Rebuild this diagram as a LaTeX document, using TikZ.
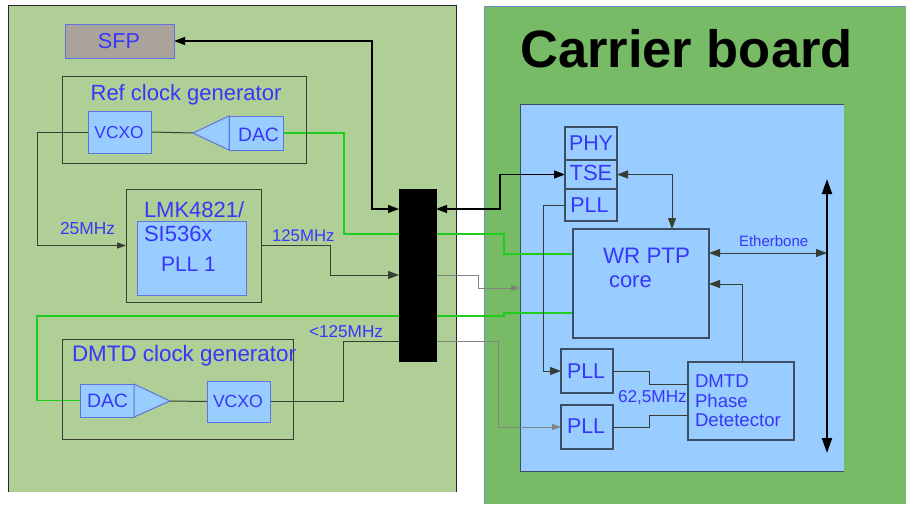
\documentclass[tikz,border=0pt]{standalone}
\usepackage{fontspec}
\setmainfont{Liberation Sans}
\usetikzlibrary{arrows.meta,calc}
\definecolor{lboard}{RGB}{175,207,150}
\definecolor{cboard}{RGB}{119,187,102}
\definecolor{lblue}{RGB}{153,204,255}
\definecolor{tblue}{RGB}{55,55,250}
\definecolor{bblue}{RGB}{95,115,225}
\definecolor{sfpgray}{RGB}{170,163,155}
\definecolor{gline}{RGB}{30,205,30}
\definecolor{slate}{RGB}{62,78,98}
\definecolor{cbord}{RGB}{110,140,200}
\definecolor{dline}{RGB}{55,62,52}
\definecolor{grline}{RGB}{130,130,130}
\pgfdeclarelayer{bg}
\pgfdeclarelayer{lines}
\pgfsetlayers{bg,lines,main}
\newcommand{\mybox}[6][]{\node[inner sep=0pt, outer sep=0pt, anchor=north west,
  minimum width={(#5-#3)*1pt}, minimum height={(#6-#4)*1pt}, #1] (#2) at (#3,#4) {};}
\newcommand{\fs}[1]{\fontsize{#1}{#1}\selectfont}
\tikzset{
  grpbox/.style={draw=dline, line width=1pt},
  bluebox/.style={draw=bblue, fill=lblue, line width=1pt},
  rbox/.style={draw=slate, fill=lblue, line width=1.1pt},
  txt/.style={inner sep=0pt, outer sep=0pt, text=tblue},
  conn/.style={draw=dline, line width=1pt},
  bconn/.style={draw=black, line width=1.2pt},
  gconn/.style={draw=gline, line width=1.5pt},
  thin/.style={draw=grline, line width=0.8pt},
  tip/.style={-{Triangle[length=11pt,width=8pt]}},
  smalltip/.style={-{Triangle[length=9pt,width=6pt]}},
  dtip/.style={{Triangle[length=11pt,width=8pt]}-{Triangle[length=11pt,width=8pt]}},
  bustip/.style={{Triangle[length=15pt,width=10pt]}-{Triangle[length=15pt,width=10pt]}},
}
\begin{document}
\begin{tikzpicture}[x=1pt,y=-1pt]
\useasboundingbox (0,0) rectangle (906,504);
\begin{pgfonlayer}{bg}
  \fill[lboard] (8,5) rectangle (456,492);
  \draw[black!85, line width=1pt] (8,492) -- (8,5) -- (456,5) -- (456,492);
  \fill[cboard] (484,6) rectangle (906,504);
  \draw[cbord, line width=1pt] (484,504) -- (484,6) -- (906,6);
  \fill[lblue] (520,104) rectangle (844,471);
  \draw[slate, line width=1pt] (844,104) -- (520,104) -- (520,471) -- (844,471);
\end{pgfonlayer}

% title
\node[anchor=base west, inner sep=0pt, font=\bfseries\fs{52.5}] (title) at (520,67) {Carrier board};

% left board boxes
\mybox[draw=bblue, fill=sfpgray, line width=1pt]{sfp}{65}{24}{174}{58}
\mybox[grpbox]{refgen}{62}{76}{306}{163}
\mybox[bluebox]{vcxo1}{88}{111}{151}{153}
\mybox[bluebox]{dac1}{229}{116}{283}{150}
\mybox[grpbox]{lmk}{126}{189}{261}{302}
\mybox[bluebox]{lmkin}{137}{221}{246}{295}
\mybox[grpbox]{dmtdgen}{62}{339}{293}{439}
\mybox[bluebox]{dac2}{80}{384}{134}{417}
\mybox[bluebox]{vcxo2}{207}{381}{270}{422}
\mybox[draw=black, fill=black]{bar}{399}{189}{436}{361}

% amplifier triangles
\coordinate (tip1) at (193,133);
\coordinate (tip2) at (170,401);
\draw[bblue, fill=lblue, line width=1pt] (dac1.north west) -- (tip1) -- (dac1.south west) -- cycle;
\draw[bblue, fill=lblue, line width=1pt] (dac2.north east) -- (tip2) -- (dac2.south east) -- cycle;

% right board boxes
\mybox[rbox]{phy}{565}{127}{617}{160}
\mybox[rbox]{tse}{565}{160}{617}{189}
\mybox[rbox]{pll0}{565}{189}{617}{221}
\mybox[rbox]{wr}{573}{229}{709}{338}
\mybox[rbox]{pll1}{561}{349}{613}{393}
\mybox[rbox]{pll2}{561}{405}{613}{449}
\mybox[rbox]{dmtd}{688}{362}{794}{440}
\mybox{inner}{520}{104}{844}{471}

% texts
\node[txt, anchor=base, font=\fs{21.6}] (tsfp) at (119,48) {SFP};
\node[txt, anchor=base, font=\fs{22}] (trefgen) at (186,100) {Ref clock generator};
\node[txt, anchor=base, font=\fs{17.3}] (tvcxo1) at (119,138) {VCXO};
\node[txt, anchor=base, font=\fs{19.4}] (tdac1) at (258.5,141) {DAC};
\node[txt, anchor=base west, font=\fs{22}] (tlmk1) at (144,217) {LMK4821/};
\node[txt, anchor=base west, font=\fs{22}] (tlmk2) at (144,241) {SI536x};
\node[txt, anchor=base west, font=\fs{21}] (tlmk3) at (161,271) {PLL 1};
\node[txt, anchor=base west, font=\fs{17.4}] (t25) at (60,234) {25MHz};
\node[txt, anchor=base west, font=\fs{16.8}] (t125) at (272,241) {125MHz};
\node[txt, anchor=base west, font=\fs{17.2}] (tl125) at (309,337) {<125MHz};
\node[txt, anchor=base west, font=\fs{22.4}] (tdmtdgen) at (72,361) {DMTD clock generator};
\node[txt, anchor=base west, font=\fs{19.4}] (tdac2) at (87,407) {DAC};
\node[txt, anchor=base west, font=\fs{17.6}] (tvcxo2) at (213,407) {VCXO};
\node[txt, anchor=base, font=\fs{21.4}] (tphy) at (591,150) {PHY};
\node[txt, anchor=base, font=\fs{22}] (ttse) at (591,180) {TSE};
\node[txt, anchor=base, font=\fs{21.4}] (tpll0) at (589.5,212) {PLL};
\node[txt, anchor=base west, font=\fs{22.4}] (twr1) at (603,263) {WR PTP};
\node[txt, anchor=base west, font=\fs{22}] (twr2) at (609,287) {core};
\node[txt, anchor=base west, font=\fs{15}] (teb) at (739,246) {Etherbone};
\node[txt, anchor=base west, font=\fs{21.4}] (tpll1) at (567,378) {PLL};
\node[txt, anchor=base west, font=\fs{21.4}] (tpll2) at (567,433) {PLL};
\node[txt, anchor=base west, font=\fs{17.2}] (t625) at (618,402) {62,5MHz};
\node[txt, anchor=base west, font=\fs{18.6}] (td1) at (695,387) {DMTD};
\node[txt, anchor=base west, font=\fs{18.6}] (td2) at (695,407) {Phase};
\node[txt, anchor=base west, font=\fs{18.6}] (td3) at (695,426) {Detetector};

% helper coordinates
\coordinate (j1) at (372,209);
\coordinate (k1) at (500,209);
\coordinate (g1) at (344,234);
\coordinate (g2) at (504,254);
\coordinate (c25) at (37,245.5);
\coordinate (c125) at (330,275);
\coordinate (c2a) at (478,275);
\coordinate (c2b) at (478,288);
\coordinate (g3) at (37,316);
\coordinate (g4) at (504,313);
\coordinate (c341) at (343,341);
\coordinate (c498) at (498,341);
\coordinate (c3) at (672,200);
\coordinate (c5) at (649,384);
\coordinate (c5b) at (649,415);
\coordinate (c6) at (742,284);
\coordinate (eb) at (827,253);
\coordinate (bt) at (827,179);
\coordinate (bb) at (827,453);

\begin{pgfonlayer}{lines}
  % left board
  \draw[bconn, dtip] (sfp.east) -| (j1) -- (j1 -| bar.west);
  \draw[conn] (vcxo1.east) -- (tip1);
  \draw[conn, smalltip] (vcxo1.west) -| (c25) -- (lmk.west);
  \draw[conn, tip] (lmk.east) -| (c125) -- (c125 -| bar.west);
  \draw[gconn] (dac1.east) -| (g1) -- (g1 -| g2) -- (g2) -- (g2 -| wr.west);
  \draw[gconn] (dac2.west) -| (g3) -- (g3 -| g4) -- (g4) -- (g4 -| wr.west);
  \draw[conn] (tip2) -- (vcxo2.west);
  \draw[conn] (vcxo2.east) -| (c341) -- (c341 -| bar.west);
  % across
  \draw[bconn, dtip] (k1 -| bar.east) -- (k1) |- (tse.west);
  \draw[thin, smalltip] (c2a -| bar.east) -- (c2a) -- (c2b) -- (c2b -| inner.west);
  \draw[thin, smalltip] (c498 -| bar.east) -- (c498) |- (pll2.west);
  % carrier board
  \draw[conn, dtip] (tse.east) -| (c3 |- wr.north);
  \draw[conn, tip] (pll0.west) -| ([xshift=-18pt]pll1.west) -- (pll1.west);
  \draw[conn] (pll1.east) -| (c5) -- (c5 -| dmtd.west);
  \draw[conn] (pll2.east) -| (c5b) -- (c5b -| dmtd.west);
  \draw[conn, tip] (c6 |- dmtd.north) -- (c6) -- (c6 -| wr.east);
  \draw[conn, dtip] (eb -| wr.east) -- (eb);
  \draw[draw=black, line width=2pt, bustip] (bt) -- (bb);
\end{pgfonlayer}
\end{tikzpicture}
\end{document}
